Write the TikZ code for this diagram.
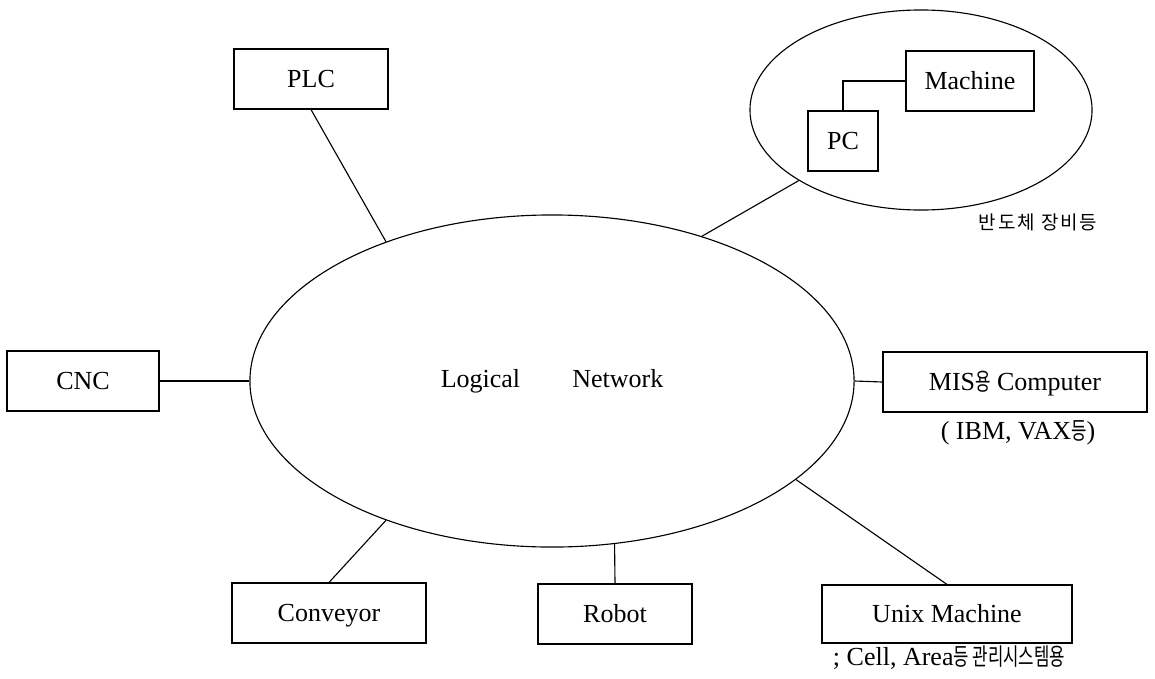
\documentclass[tikz,border=0pt]{standalone}
\usepackage{fontspec}
\setmainfont{Liberation Serif}
\newfontfamily\kr[FakeStretch=0.7]{Noto Sans CJK KR}
\newfontfamily\krwide[LetterSpace=10]{Noto Sans CJK KR}
\usetikzlibrary{shapes,positioning,calc}

\begin{document}
\begin{tikzpicture}
[x=0.025cm,y=-0.025cm,line width=0.8pt,
unit/.style={draw,rectangle,minimum height=1.5cm,inner sep=0pt,text height=16pt,text depth=3.5pt,font=\fontsize{18.5}{20}\selectfont},
net/.style={draw,ellipse,inner sep=0pt,font=\fontsize{18.5}{20}\selectfont},
note/.style={inner sep=1pt,font=\fontsize{18.5}{20}\selectfont},
link/.style={}]
\useasboundingbox (0,0) rectangle (1155,678);
%% Network
\node[net,minimum width=15.1cm,minimum height=8.3cm] (ln) at (552,381) {Logical\qquad Network};
%% Units
\node[unit,minimum width=3.85cm] (plc) at (311,79) {PLC};
\node[unit,minimum width=3.8cm] (cnc) at (83,381) {CNC};
\node[unit,minimum width=4.85cm] (conv) at (329,613) {Conveyor};
\node[unit,minimum width=3.85cm] (robot) at (615,614) {Robot};
\node[unit,minimum width=6.25cm,minimum height=1.45cm] (unix) at (947,614) {Unix Machine};
\node[unit,minimum width=6.6cm] (mis) at (1015,382) {MIS{\kr\fontsize{17}{18}\selectfont 용} Computer};
% semiconductor cell
\node[net,minimum width=8.55cm,minimum height=5cm] (fab) at (921,110) {};
\node[unit,minimum width=3.2cm] (mach) at (970,81) {Machine};
\node[unit,minimum width=1.75cm] (pc) at (843,141) {PC};
%% Notes
\node[note] (fabnote) at (1038,222) {\krwide\fontsize{13.5}{15}\selectfont 반도체 장비등};
\node[note] (misnote) at (1018,433) {( IBM, VAX{\kr\fontsize{17}{18}\selectfont 등})};
\node[note] (unixnote) at (949,658) {; Cell, Area{\kr\fontsize{17}{18}\selectfont 등 관리시스템용}};
%% Links
\draw[link] (pc.north) |- (mach.west);
\draw[link] (plc.south) -- (ln.140);
\draw[link] (fab.210) -- (ln.44);
\draw[link] (cnc.east) -- (ln.west);
\draw[link] (mis.west) -- (ln.east);
\draw[link] (conv.north) -- (ln.220);
\draw[link] (robot.north) -- (ln.291);
\draw[link] (unix.north) -- (ln.338);
\end{tikzpicture}
\end{document}
